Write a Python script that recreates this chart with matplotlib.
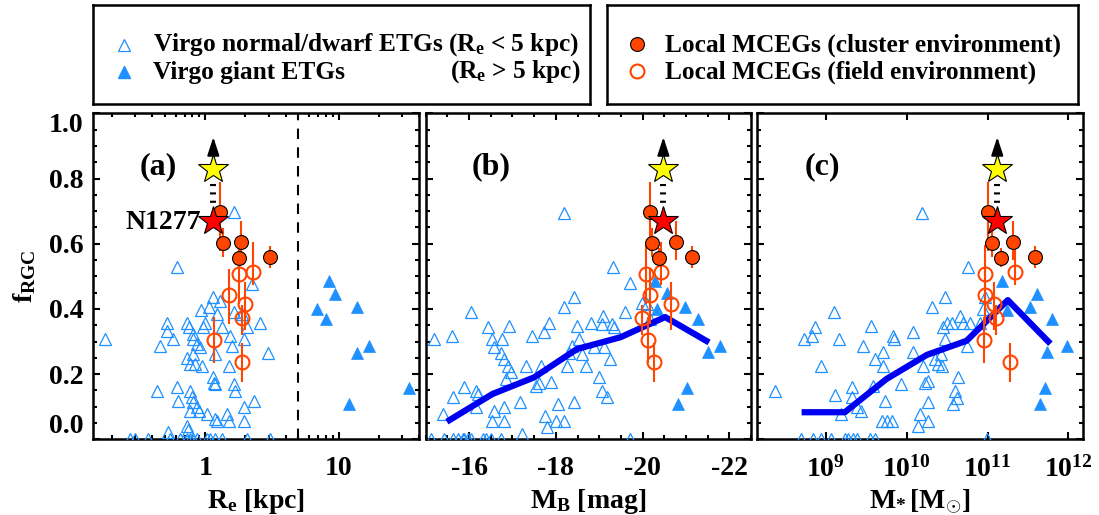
import numpy as np
import matplotlib
matplotlib.use("Agg")
import matplotlib.pyplot as plt
from matplotlib.ticker import FixedLocator, MultipleLocator, NullFormatter, LogLocator, FormatStrFormatter

plt.rcParams['font.family'] = ['Liberation Serif', 'DejaVu Serif']
plt.rcParams['font.weight'] = 'bold'
plt.rcParams['mathtext.fontset'] = 'custom'
plt.rcParams['mathtext.rm'] = 'Liberation Serif:bold'
plt.rcParams['mathtext.bf'] = 'Liberation Serif:bold'
plt.rcParams['mathtext.it'] = 'Liberation Serif:bold'

# ---------------- data ----------------
# Panel (a): effective radius [kpc] vs f_RGC
re_norm = [0.177, 0.619, 1.63, 0.515, 0.515, 0.459, 0.578, 0.728, 0.75, 1.0, 0.97, 1.135, 1.30, 0.933,
           1.07, 1.22, 0.817, 0.817, 0.866, 0.917, 0.728, 0.771, 0.841, 0.944, 0.817, 1.19, 1.33, 1.54,
           1.585, 1.52, 1.94, 2.06, 2.24, 2.59, 2.94, 1.63, 1.89, 1.14, 1.155, 1.19, 1.63, 1.68, 0.433,
           0.612, 0.63, 0.771, 0.794, 0.817, 0.866, 0.891, 0.771, 1.03, 1.22, 1.19, 1.455, 1.50, 1.94,
           1.96, 2.31, 0.728, 0.737, 0.53,
           0.273, 0.298, 0.375, 0.546, 0.649, 0.728, 0.771, 0.817, 0.866, 1.03, 1.09, 1.19, 1.33, 2.06, 3.08]
f_norm_a = [0.307, 0.530, 0.698, 0.358, 0.333, 0.287, 0.307, 0.358, 0.343, 0.358, 0.343, 0.437, 0.424,
            0.396, 0.406, 0.384, 0.322, 0.307, 0.292, 0.282, 0.249, 0.231, 0.231, 0.226, 0.261, 0.261,
            0.343, 0.317, 0.287, 0.226, 0.307, 0.343, 0.476, 0.358, 0.266, 0.389, 0.384, 0.190, 0.174,
            0.169, 0.169, 0.149, 0.147, 0.159, 0.118, 0.149, 0.129, 0.113, 0.098, 0.088, 0.088, 0.078,
            0.057, 0.062, 0.078, 0.057, 0.098, 0.057, 0.116, 0.042, 0.027, 0.021,
            0, 0, 0, 0, 0, 0, 0, 0, 0, 0, 0, 0, 0, 0, 0]
re_giant = [8.46, 9.4, 6.9, 13.8, 8.0, 16.9, 13.8, 33.8, 12.0]
f_giant = [0.486, 0.447, 0.400, 0.406, 0.369, 0.287, 0.266, 0.157, 0.108]

# Local MCEGs: f_RGC values with errors (same galaxies in all panels)
f_clu = [0.698, 0.603, 0.606, 0.557, 0.559]
f_clu_lo = [0.12, 0.045, 0.055, 0.03, 0.035]
f_clu_hi = [0.09, 0.045, 0.065, 0.03, 0.035]
f_fld = [0.506, 0.514, 0.443, 0.414, 0.371, 0.304, 0.236]
f_fld_lo = [0.09, 0.04, 0.09, 0.08, 0.05, 0.07, 0.06]
f_fld_hi = [0.09, 0.09, 0.08, 0.07, 0.04, 0.07, 0.06]
re_clu = [1.28, 1.37, 1.87, 1.78, 3.08]
re_fld = [1.80, 2.28, 1.52, 1.98, 1.89, 1.17, 1.89]

# NGC 1277 (red star) and its lower limit (yellow star)
f_n1277 = 0.67
f_n1277_lim = 0.828
re_n1277 = 1.15
mb_n1277 = -20.48
logm_n1277 = 11.12

# Panel (b): M_B [mag]
mb_norm = [-15.20, -15.61, -16.05, -16.43, -16.54, -16.58, -16.77, -16.93, -16.73, -16.81, -16.89, -16.96,
           -15.89, -16.16, -16.20, -15.63, -15.40, -16.16, -16.58, -16.81, -16.54, -16.80, -16.85, -17.18,
           -17.31, -17.46, -17.54, -17.61, -17.65, -17.73, -17.84, -17.88, -17.74, -17.80, -18.00, -18.05,
           -18.20, -18.19, -18.43, -18.26, -18.30, -18.38, -18.49, -18.53, -18.61, -18.70, -18.80, -18.87,
           -18.99, -19.07, -19.09, -19.12, -19.18, -19.26, -19.30, -19.32, -19.60, -19.72, -19.98, -20.10,
           -20.17, -18.42, -17.23, -18.19, -19.07, -19.33,
           -15.13, -15.43, -15.63, -15.74, -15.85, -15.89, -15.97, -16.05, -16.31, -16.39, -16.50, -16.73, -19.72]
f_norm_b = [0.307, 0.317, 0.389, 0.345, 0.307, 0.284, 0.307, 0.348, 0.266, 0.246, 0.226, 0.205,
            0.159, 0.149, 0.139, 0.129, 0.078, 0.098, 0.088, 0.100, 0.057, 0.057, 0.185, 0.113,
            0.226, 0.317, 0.164, 0.174, 0.226, 0.328, 0.358, 0.177, 0.072, 0.037, 0.057, 0.108,
            0.055, 0.406, 0.437, 0.226, 0.266, 0.287, 0.348, 0.307, 0.261, 0.226, 0.358, 0.282,
            0.190, 0.149, 0.379, 0.282, 0.129, 0.246, 0.353, 0.527, 0.389, 0.478, 0.419, 0.414,
            0.368, 0.113, 0.016, 0.695, 0.353, 0.343,
            0, 0, 0, 0, 0, 0, 0, 0, 0, 0, 0, 0, 0]
mb_giant = [-20.29, -20.56, -20.33, -20.98, -21.28, -21.78, -21.51, -21.02, -20.82]
f_giant_b = [0.486, 0.450, 0.399, 0.406, 0.368, 0.287, 0.269, 0.157, 0.108]
mb_clu = [-20.16, -20.21, -20.77, -20.37, -21.15]
mb_fld = [-20.08, -20.42, -20.17, -20.65, -19.98, -20.12, -20.27]
mb_trend = [-15.55, -16.54, -17.50, -18.49, -19.49, -20.52, -21.47]
f_trend_b = [0.059, 0.139, 0.190, 0.277, 0.313, 0.375, 0.302]

# Panel (c): log10 M* [Msun]
logm_norm = [8.369, 8.732, 8.835, 8.864, 8.946, 9.099, 9.165, 9.111, 9.186, 9.318, 9.318, 9.380, 9.441,
             9.462, 9.565, 9.586, 9.606, 9.710, 9.710, 9.730, 9.689, 9.751, 9.813, 9.825, 9.842, 9.936,
             10.081, 10.081, 10.163, 10.205, 10.143, 10.184, 10.225, 10.267, 10.267, 10.267, 10.308,
             10.349, 10.390, 10.419, 10.432, 10.444, 10.473, 10.473, 10.493, 10.555, 10.576, 10.597,
             10.617, 10.638, 10.658, 10.700, 10.741, 10.782, 10.906, 10.762, 10.947, 10.968,
             8.699, 8.843, 8.946, 9.070, 9.235, 9.276, 9.338, 9.380, 9.545, 9.606, 10.988]
f_norm_c = [0.147, 0.307, 0.317, 0.345, 0.226, 0.389, 0.307, 0.137, 0.078, 0.159, 0.129, 0.098, 0.088,
            0.287, 0.348, 0.164, 0.246, 0.269, 0.226, 0.118, 0.057, 0.057, 0.057, 0.317, 0.307, 0.169,
            0.328, 0.269, 0.078, 0.226, 0.042, 0.695, 0.174, 0.178, 0.113, 0.057, 0.406,
            0.246, 0.231, 0.261, 0.226, 0.345, 0.437, 0.307, 0.358, 0.358, 0.108, 0.149,
            0.126, 0.190, 0.379, 0.358, 0.287, 0.358, 0.358, 0.529, 0.399, 0.435,
            0, 0, 0, 0, 0, 0, 0, 0, 0, 0, 0]
logm_giant = [11.174, 11.607, 11.525, 11.236, 11.793, 11.979, 11.731, 11.710, 11.649]
f_giant_c = [0.486, 0.447, 0.406, 0.396, 0.368, 0.287, 0.269, 0.157, 0.108]
logm_clu = [11.00, 11.06, 11.32, 11.16, 11.59]
logm_fld = [10.97, 11.34, 10.97, 11.08, 11.11, 10.95, 11.28]
logm_trend = [8.74, 9.235, 9.75, 10.25, 10.74, 11.25, 11.75]
f_trend_c = [0.083, 0.083, 0.185, 0.259, 0.302, 0.427, 0.300]

# ---------------- style ----------------
TRI = '#1E90FF'
ORG = '#FF4500'
LINE = '#0000F0'
FS = 20
FSL = 18.3

W, H = 1099, 515
fig = plt.figure(figsize=(W / 100, H / 100), dpi=100)


def px_axes(x0, x1, y0, y1):
    return fig.add_axes([x0 / W, 1 - y1 / H, (x1 - x0) / W, (y1 - y0) / H])


axa = px_axes(93.3, 419, 113.3, 439.3)
axb = px_axes(425.7, 751, 113.3, 439.3)
axc = px_axes(756.7, 1082.7, 113.3, 439.3)


def common(ax):
    ax.set_ylim(0, 1.0)
    ax.yaxis.set_major_locator(FixedLocator([0.0, 0.2, 0.4, 0.6, 0.8, 1.0]))
    ax.yaxis.set_minor_locator(MultipleLocator(0.05))
    ax.yaxis.set_major_formatter(FormatStrFormatter('%.1f'))
    ax.tick_params(which='both', direction='in', top=True, right=True, width=1.5,
                   labelsize=FS, pad=7)
    ax.tick_params(which='major', length=5)
    ax.tick_params(which='minor', length=2.6)
    ax.tick_params(axis='x', which='both', pad=12)
    for s in ax.spines.values():
        s.set_linewidth(1.8)


def mceg(ax, xc, xf, xs):
    ax.errorbar(xf, f_fld, yerr=[f_fld_lo, f_fld_hi], fmt='none', ecolor=ORG, elinewidth=1.5,
                capsize=0, zorder=4)
    ax.errorbar(xc, f_clu, yerr=[f_clu_lo, f_clu_hi], fmt='none', ecolor=ORG, elinewidth=1.5,
                capsize=0, zorder=4)
    ax.plot(xf, f_fld, 'o', ms=10, mfc='none', mec=ORG, mew=1.5, zorder=5)
    ax.plot(xc, f_clu, 'o', ms=10, mfc=ORG, mec='black', mew=0.8, zorder=6)
    # NGC1277: dashed link between measured value and lower limit
    ax.plot([xs, xs], [f_n1277_lim - 0.045, f_n1277 + 0.05], color='black', lw=4.3,
            ls=(0, (0.35, 1.05)), solid_capstyle='butt', dash_capstyle='butt', zorder=6)
    ax.annotate('', xy=(xs, 0.927), xytext=(xs, f_n1277_lim + 0.04),
                arrowprops=dict(arrowstyle='-|>,head_length=0.55,head_width=0.18',
                                mutation_scale=20, color='black', lw=1.5,
                                shrinkA=0, shrinkB=0),
                zorder=6)
    ax.plot([xs], [f_n1277], '*', ms=22, mfc='red', mec='black', mew=0.8, zorder=7)
    ax.plot([xs], [f_n1277_lim], '*', ms=22, mfc='yellow', mec='black', mew=0.8, zorder=7)


def nudge_ylabels(ax):
    labs = ax.get_yticklabels()
    if labs:
        labs[0].set_va('bottom')
        labs[-1].set_va('top')


# Panel (a)
ax = axa
common(ax)
ax.set_xscale('log')
ax.set_xlim(0.145, 40)
ax.plot(re_norm, f_norm_a, '^', ms=8.5, mfc='none', mec=TRI, mew=0.9, zorder=3)
ax.plot(re_giant, f_giant, '^', ms=8.5, mfc=TRI, mec=TRI, mew=0.5, zorder=3)
ax.axvline(5, color='black', lw=1.5, ls=(0, (5, 4)), zorder=2)
mceg(ax, re_clu, re_fld, re_n1277)
ax.xaxis.set_major_locator(FixedLocator([1, 10]))
ax.xaxis.set_minor_locator(LogLocator(base=10, subs=np.arange(2, 10)))
ax.xaxis.set_minor_formatter(NullFormatter())
ax.set_xticklabels(['1', '10'])
nudge_ylabels(ax)
ax.set_xlabel(r'R$_\mathbf{e}$ [kpc]', fontsize=FS, fontweight='bold', labelpad=4)
ax.set_ylabel(r'f$_\mathbf{RGC}$', fontsize=FS, fontweight='bold', labelpad=8)
ax.text(0.2, 0.835, '(a)', transform=ax.transAxes, fontsize=23, fontweight='bold',
        ha='center', va='center')
ax.text(0.93, 0.664, 'N1277', fontsize=FS, fontweight='bold', ha='right', va='center')

# Panel (b)
ax = axb
common(ax)
ax.set_xlim(-15, -22.5)
ax.plot(mb_norm, f_norm_b, '^', ms=8.5, mfc='none', mec=TRI, mew=0.9, zorder=3)
ax.plot(mb_giant, f_giant_b, '^', ms=8.5, mfc=TRI, mec=TRI, mew=0.5, zorder=3)
ax.plot(mb_trend, f_trend_b, '-', color=LINE, lw=4.5, zorder=4)
mceg(ax, mb_clu, mb_fld, mb_n1277)
ax.xaxis.set_major_locator(FixedLocator([-16, -18, -20, -22]))
ax.xaxis.set_minor_locator(MultipleLocator(0.5))
ax.set_xticklabels(['-16', '-18', '-20', '-22'])
ax.set_yticklabels([])
ax.set_xlabel(r'M$_\mathbf{B}$ [mag]', fontsize=FS, fontweight='bold', labelpad=4)
ax.text(0.2, 0.835, '(b)', transform=ax.transAxes, fontsize=23, fontweight='bold',
        ha='center', va='center')

# Panel (c)
ax = axc
common(ax)
ax.set_xscale('log')
ax.set_xlim(10 ** 8.146, 10 ** 12.176)
ax.plot(10 ** np.array(logm_norm), f_norm_c, '^', ms=8.5, mfc='none', mec=TRI, mew=0.9, zorder=3)
ax.plot(10 ** np.array(logm_giant), f_giant_c, '^', ms=8.5, mfc=TRI, mec=TRI, mew=0.5, zorder=3)
ax.plot(10 ** np.array(logm_trend), f_trend_c, '-', color=LINE, lw=4.5, zorder=4)
mceg(ax, 10 ** np.array(logm_clu), 10 ** np.array(logm_fld), 10 ** logm_n1277)
ax.xaxis.set_major_locator(FixedLocator([1e9, 1e10, 1e11, 1e12]))
ax.xaxis.set_minor_locator(LogLocator(base=10, subs=np.arange(2, 10)))
ax.xaxis.set_minor_formatter(NullFormatter())
ax.set_xticklabels([r'10$^{9}$', r'10$^{10}$', r'10$^{11}$', r'10$^{12}$'])
ax.set_yticklabels([])
ax.set_xlabel(r'M$_{*}\,$[M$_{\odot}$]', fontsize=FS, fontweight='bold', labelpad=4)
ax.text(0.2, 0.835, '(c)', transform=ax.transAxes, fontsize=23, fontweight='bold',
        ha='center', va='center')

# ---------------- legends ----------------
lg1 = px_axes(93.3, 590, 5, 104)
lg2 = px_axes(607, 1078, 5, 104)
for lg in (lg1, lg2):
    lg.set_xlim(0, 1)
    lg.set_ylim(0, 1)
    lg.set_xticks([])
    lg.set_yticks([])
    for s in lg.spines.values():
        s.set_linewidth(1.8)

w1 = 590 - 93.3
lg1.plot([(124 - 93.3) / w1], [(104 - 45) / 99], '^', ms=8.5, mfc='none', mec=TRI, mew=0.9)
lg1.plot([(124 - 93.3) / w1], [(104 - 72) / 99], '^', ms=8.5, mfc=TRI, mec=TRI)
lg1.text((153 - 93.3) / w1, (104 - 45) / 99, r'Virgo normal/dwarf ETGs (R$_\mathbf{e}$ < 5 kpc)',
         fontsize=FSL, fontweight='bold', va='center', ha='left')
lg1.text((153 - 93.3) / w1, (104 - 72) / 99, 'Virgo giant ETGs',
         fontsize=FSL, fontweight='bold', va='center', ha='left')
lg1.text((581 - 93.3) / w1, (104 - 72) / 99, r'(R$_\mathbf{e}$ > 5 kpc)',
         fontsize=FSL, fontweight='bold', va='center', ha='right')

w2 = 1078 - 607
lg2.plot([(637 - 607) / w2], [(104 - 44) / 99], 'o', ms=10, mfc=ORG, mec='black', mew=0.8)
lg2.plot([(637 - 607) / w2], [(104 - 71) / 99], 'o', ms=10, mfc='none', mec=ORG, mew=1.5)
lg2.text((665 - 607) / w2, (104 - 45) / 99, 'Local MCEGs (cluster environment)',
         fontsize=FSL, fontweight='bold', va='center', ha='left')
lg2.text((665 - 607) / w2, (104 - 72) / 99, 'Local MCEGs (field environment)',
         fontsize=FSL, fontweight='bold', va='center', ha='left')

fig.savefig('out.png', dpi=100)
